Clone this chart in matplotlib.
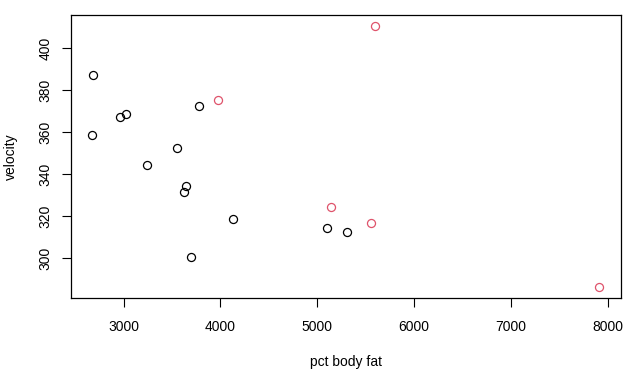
import matplotlib
matplotlib.use("Agg")
import matplotlib.pyplot as plt

plt.rcParams['font.family'] = ['Liberation Sans', 'DejaVu Sans']

# black points
fat_black = [2688, 2677, 2966, 3028, 3244, 3554, 3649, 3622, 3780, 3698, 4131, 5103, 5309]
vel_black = [387.1, 358.6, 367.1, 368.6, 344.3, 352.4, 334.3, 331.4, 372.4, 300.9, 318.6, 314.3, 312.4]

# red points
fat_red = [3972, 5601, 5144, 5557, 7910]
vel_red = [375.2, 410.5, 324.3, 316.7, 286.2]

xticks = [3000, 4000, 5000, 6000, 7000, 8000]
yticks = [300, 320, 340, 360, 380, 400]

fig = plt.figure(figsize=(6.35, 3.87), dpi=100)
ax = fig.add_axes([71.3 / 635, 1 - 298.3 / 387, 550 / 635, 283.3 / 387])

ax.plot(fat_black, vel_black, 'o', mfc='none', mec='black', ms=5.8, mew=0.9, ls='none')
ax.plot(fat_red, vel_red, 'o', mfc='none', mec='#DF536B', ms=5.8, mew=0.9, ls='none')

ax.set_xlim(2460, 8140)
ax.set_ylim(281.0, 415.9)
ax.set_xticks(xticks)
ax.set_yticks(yticks)
ax.set_xticklabels([str(t) for t in xticks], fontsize=10)
ax.set_yticklabels([str(t) for t in yticks], fontsize=10, rotation=90, va='center')
ax.tick_params(axis='both', length=6.5, width=0.8, direction='out')
ax.tick_params(axis='x', pad=9)
ax.tick_params(axis='y', pad=7)
for s in ax.spines.values():
    s.set_linewidth(0.9)

fig.text(346.3 / 635, 1 - 362 / 387, 'pct body fat', ha='center', va='center', fontsize=10)
fig.text(11 / 635, 1 - 156.7 / 387, 'velocity', ha='center', va='center', fontsize=10, rotation=90)

fig.savefig('out.png', dpi=100)
